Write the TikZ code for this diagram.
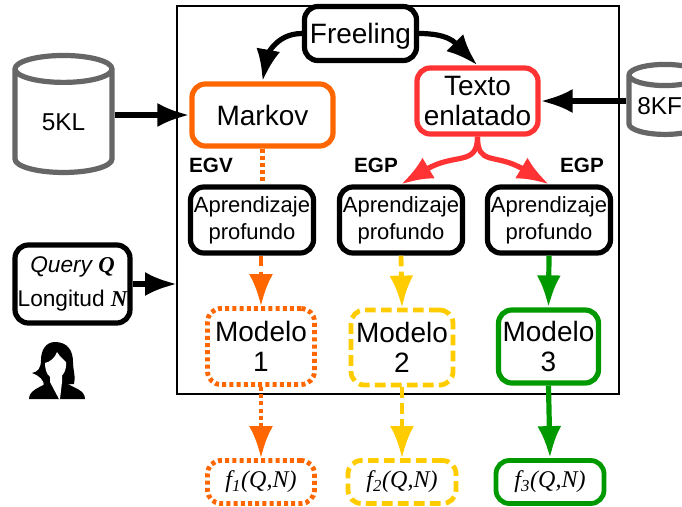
\documentclass[tikz,border=0pt]{standalone}
\usepackage{fontspec}
\usepackage{tikz}
\usepackage{xcolor}
\usetikzlibrary{arrows.meta,shapes.geometric}
\setmainfont{Liberation Sans}
\newfontfamily\serifit{Liberation Serif}[Ligatures=TeX]
\definecolor{egv-orange}{HTML}{FF6600}
\definecolor{egp-red}{HTML}{FF3333}
\definecolor{egp-yellow}{HTML}{FFCC00}
\definecolor{egp-green}{HTML}{009900}
\definecolor{db-gray}{HTML}{666666}
\tikzset{
    px-size/.style 2 args = {minimum width=#1*0.75pt, minimum height=#2*0.75pt},
    rounded-box/.style = {draw, fill=white, line width=3.9pt, rectangle, rounded corners=10pt, inner sep=0pt, align=center, font=\fontsize{21}{23}\selectfont},
    learn-box/.style = {rounded-box, px-size={123}{66}, font=\fontsize{16.5}{20}\selectfont},
    result-box/.style = {rounded-box, line width=3.6pt, font=\fontsize{18}{20}\serifit\itshape},
    db/.style = {draw=db-gray, fill=white, line width=3.9pt, cylinder, shape border rotate=90, aspect=0.62, inner sep=0pt, font=\fontsize{18.3}{22}\selectfont},
    tag/.style = {font=\fontsize{15.5}{18}\selectfont\bfseries},
    big-arrow/.style = {line width=3.9pt, -{Latex[length=24pt,width=18pt]}},
    dotted-line/.style = {line width=3.6pt, dash pattern=on 3pt off 2.4pt},
    dashed-line/.style = {line width=3.6pt, dash pattern=on 8pt off 4pt},
}

\begin{document}
\begin{tikzpicture}[x=0.75pt,y=-0.75pt]
\useasboundingbox (0,0) rectangle (682,507);
\node[draw, line width=1.5pt, outer sep=0pt, px-size={442}{388}, inner sep=0pt] (frame) at (398,200) {};

\node[rounded-box, px-size={112}{54}, text depth=0pt] (freeling) at (360.5,33.5) {Freeling};
\node[rounded-box, draw=egv-orange, px-size={141}{62}] (markov) at (262.5,115) {Markov};
\node[rounded-box, draw=egp-red, px-size={121}{66}] (texto) at (477.5,101) {Texto\\enlatado};

\node[learn-box] (learn1) at (252,220) {Aprendizaje\\profundo};
\node[learn-box] (learn2) at (401,220) {Aprendizaje\\profundo};
\node[learn-box] (learn3) at (549,220) {Aprendizaje\\profundo};

\node[rounded-box, draw=egv-orange, dotted-line, px-size={107}{76}] (model1) at (261,346.5) {Modelo\\1};
\node[rounded-box, draw=egp-yellow, dashed-line, px-size={102}{75}] (model2) at (402,347.5) {Modelo\\2};
\node[rounded-box, draw=egp-green, px-size={100}{73}] (model3) at (548.5,346.5) {Modelo\\3};

\node[result-box, draw=egv-orange, dotted-line, px-size={107}{43}] (f1) at (261,482) {f\textsubscript{1}(Q,N)};
\node[result-box, draw=egp-yellow, dashed-line, px-size={108}{43}] (f2) at (402,482) {f\textsubscript{2}(Q,N)};
\node[result-box, draw=egp-green, px-size={108}{43}] (f3) at (550,482) {f\textsubscript{3}(Q,N)};

\node[db, px-size={97}{117}] (db-5kl) at (63.5,122) {5KL};
\node[db, px-size={72}{70}] (db-8kf) at (665,106) {\hspace*{-8pt}8KF};

\node[rounded-box, px-size={115}{78}, font=\fontsize{17}{26}\selectfont] (query) at (72.5,284) {{\itshape Query} {\serifit\bfseries\itshape Q}\\Longitud {\serifit\bfseries\itshape N}};

\node[tag] (egv) at (211,165) {EGV};
\node[tag] (egp1) at (376,165) {EGP};
\node[tag] (egp2) at (582,165) {EGP};

% connectors
\draw[big-arrow] (freeling.west) .. controls +(-28,0) and +(4,-22) .. (markov.north);
\draw[big-arrow] (freeling.east) .. controls +(30,0) and +(-22,-22) .. (texto.north);
\draw[big-arrow] (db-5kl.east |- markov.west) -- (markov.west);
\draw[big-arrow] (db-8kf.west |- texto.east) -- (texto.east);
\draw[big-arrow] (query.east) -- (query.east -| frame.west);
\draw[big-arrow, draw=egp-red] (texto.south) .. controls +(0,30) and +(54,-32) .. (learn2.north);
\draw[big-arrow, draw=egp-red] (texto.south) .. controls +(0,30) and +(-54,-32) .. (learn3.north);

\draw[draw=egv-orange, dotted-line] (markov.south) -- (learn1.north -| markov.south);
\draw[big-arrow, draw=egv-orange, dashed-line] (learn1.south -| model1.north) -- (model1.north);
\draw[big-arrow, draw=egp-yellow, dashed-line] (learn2.south) -- (model2.north);
\draw[big-arrow, draw=egp-green] (learn3.south) -- (model3.north);
\draw[big-arrow, draw=egv-orange, dotted-line] (model1.south) -- (f1.north);
\draw[big-arrow, draw=egp-yellow, dashed-line] (model2.south) -- (f2.north);
\draw[big-arrow, draw=egp-green] (model3.south) -- (f3.north);

% user icon
\fill (29,399) .. controls (29,391) and (38,388) .. (47,383) -- (66,383) .. controls (74,388) and (85,390) .. (85,399) -- cycle;
\fill (55,342) .. controls (67,342) and (73,350) .. (73,362) .. controls (73,370) and (76,378) .. (74,384) -- (44,386) .. controls (44,380) and (40,376) .. (32,373) .. controls (38,372) and (41,368) .. (41,360) .. controls (41,350) and (46,342) .. (55,342) -- cycle;
\fill[white] (57,352) .. controls (60,357) and (64,360) .. (66,362) .. controls (67,372) and (61,379) .. (55,379) .. controls (49,379) and (45,372) .. (45,363) .. controls (50,362) and (55,358) .. (57,352) -- cycle;
\fill[white] (50,376) -- (62,376) -- (62,382) -- (60,399) -- (59,399) -- (50,382) -- cycle;
\end{tikzpicture}
\end{document}
